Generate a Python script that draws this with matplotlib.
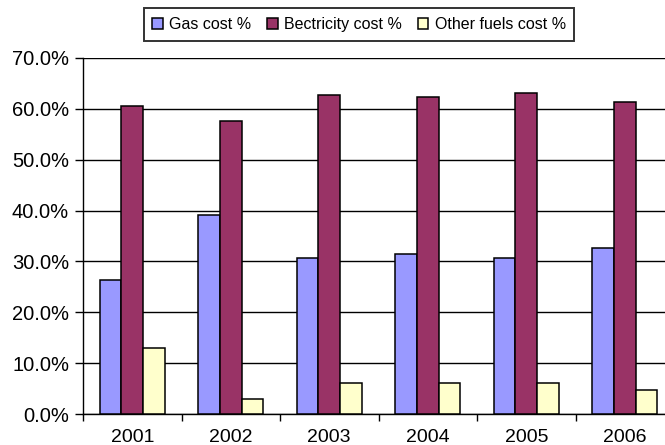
import matplotlib
matplotlib.use("Agg")
import matplotlib.pyplot as plt
from matplotlib.ticker import FuncFormatter, FixedLocator
import numpy as np

plt.rcParams['font.family'] = ['Liberation Sans', 'DejaVu Sans']

# share of energy cost per year (percent)
years = ["2001", "2002", "2003", "2004", "2005", "2006"]
gas = [26.3, 39.1, 30.6, 31.4, 30.6, 32.7]
electricity = [60.5, 57.6, 62.7, 62.3, 63.2, 61.4]
other_fuels = [13.0, 2.9, 6.0, 6.0, 6.0, 4.7]
series_names = ["Gas cost %", "Bectricity cost %", "Other fuels cost %"]

colors = ["#9999FF", "#993366", "#FFFFCC"]

fig = plt.figure(figsize=(6.65, 4.45), dpi=100)
ax = fig.add_axes([83 / 665, 31 / 445, 591 / 665, 356 / 445])

x = np.arange(len(years))
w = 0.22
for i, (vals, name) in enumerate(zip([gas, electricity, other_fuels], series_names)):
    ax.bar(x + (i - 1) * w, vals, w, color=colors[i], edgecolor="black",
           linewidth=1.1, label=name, zorder=3)

ax.set_xlim(-0.5, len(years) - 0.5)
ax.set_ylim(0, 70)
ax.set_yticks(np.arange(0, 71, 10))
ax.yaxis.set_major_formatter(FuncFormatter(lambda v, p: f"{v:.1f}%"))
ax.grid(axis="y", color="black", linewidth=1, zorder=0)

# year labels centred, tick marks on the category boundaries
ax.set_xticks(x)
ax.set_xticklabels(years)
ax.xaxis.set_minor_locator(FixedLocator(np.arange(-0.5, len(years), 1)))
ax.tick_params(axis="x", which="major", length=0, labelsize=14, pad=11)
ax.tick_params(axis="x", which="minor", length=5, width=1, direction="out")
ax.tick_params(axis="y", length=6, width=1, labelsize=14.5, pad=4)

for s in ["top", "right"]:
    ax.spines[s].set_visible(False)
for s in ["left", "bottom"]:
    ax.spines[s].set_linewidth(1)

leg = fig.legend(loc="upper center", bbox_to_anchor=(359 / 665, 1 - 8 / 445),
                 ncol=3, frameon=True, fancybox=False, fontsize=11.5,
                 handlelength=0.65, handleheight=0.65, handletextpad=0.4,
                 columnspacing=1.0, borderpad=0.55, borderaxespad=0)
leg.get_frame().set_edgecolor("black")
leg.get_frame().set_linewidth(1.4)

fig.savefig("out.png", dpi=100)
